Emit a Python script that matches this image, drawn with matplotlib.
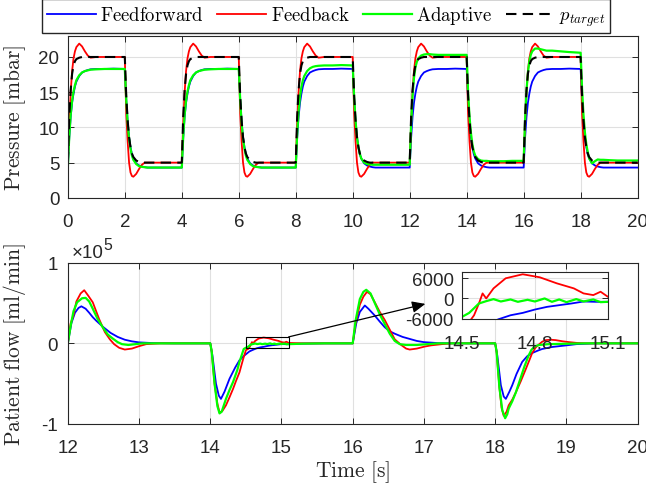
import numpy as np
import matplotlib
matplotlib.use('Agg')
import matplotlib.pyplot as plt
from matplotlib.patches import Rectangle

plt.rcParams['font.family'] = ['Liberation Sans', 'DejaVu Sans']
plt.rcParams['mathtext.fontset'] = 'cm'
plt.rcParams['axes.unicode_minus'] = False

# ---- pressure, one 4 s breathing cycle (relative time) ----
t_cycle = [0, .05, .1, .15, .2, .25, .3, .4, .5, .6, .7, .8, 1.0, 1.3, 1.6,
           2.0, 2.05, 2.1, 2.15, 2.2, 2.25, 2.3, 2.4, 2.5, 2.6, 2.7, 2.8, 3.0, 3.3, 3.6]
cycle_starts = [0, 4, 8, 12, 16]

p_target = [5.0, 11.5, 15.3, 17.6, 18.8, 19.4, 19.7, 19.9, 20, 20, 20, 20, 20, 20, 20,
            20, 14.5, 11.0, 8.6, 7.2, 6.3, 5.8, 5.3, 5.1, 5.0, 5, 5, 5, 5, 5]
p_feedback = [5.0, 10.5, 15.0, 18.0, 19.8, 20.8, 21.4, 21.9, 21.5, 20.8, 20.2, 19.9, 20, 20, 20,
              20, 12.0, 8.0, 5.0, 3.6, 3.1, 3.0, 3.4, 4.1, 4.7, 5.0, 5, 5, 5, 5]
p_feedforward = [4.3, 8.5, 11.5, 13.5, 14.8, 15.8, 16.5, 17.3, 17.8, 18.0, 18.15, 18.25, 18.3, 18.3, 18.35,
                 18.3, 14.0, 10.8, 8.6, 7.2, 6.2, 5.6, 4.9, 4.6, 4.45, 4.35, 4.3, 4.3, 4.3, 4.3]
p_adaptive = [
    [4.3, 8.7, 11.8, 13.8, 15.1, 16.0, 16.7, 17.4, 17.8, 18.0, 18.1, 18.2, 18.25, 18.3, 18.3,
     18.3, 14.0, 10.6, 8.4, 7.0, 6.0, 5.4, 4.8, 4.5, 4.4, 4.35, 4.3, 4.3, 4.3, 4.3],
    [4.3, 8.7, 11.8, 13.8, 15.1, 16.0, 16.7, 17.4, 17.8, 18.0, 18.1, 18.2, 18.25, 18.3, 18.3,
     18.3, 14.0, 10.6, 8.4, 7.0, 6.0, 5.4, 4.8, 4.5, 4.4, 4.35, 4.3, 4.3, 4.3, 4.3],
    [4.3, 9.0, 12.3, 14.4, 15.8, 16.7, 17.3, 18.0, 18.4, 18.6, 18.7, 18.75, 18.8, 18.8, 18.85,
     18.8, 14.3, 10.9, 8.6, 7.2, 6.2, 5.6, 5.0, 4.8, 4.75, 4.7, 4.7, 4.7, 4.7, 4.7],
    [4.7, 10.5, 14.5, 17.0, 18.5, 19.3, 19.8, 20.2, 20.35, 20.4, 20.4, 20.35, 20.3, 20.3, 20.3,
     20.3, 15.0, 11.5, 9.2, 7.6, 6.6, 6.0, 5.5, 5.3, 5.25, 5.25, 5.2, 5.2, 5.2, 5.25],
    [5.25, 11.0, 15.2, 17.8, 19.4, 20.3, 20.8, 21.2, 21.2, 21.1, 21.0, 20.9, 20.9, 20.8, 20.7,
     20.6, 15.5, 11.8, 9.3, 7.6, 6.5, 5.6, 4.9, 5.2, 5.45, 5.4, 5.4, 5.35, 5.3, 5.3],
]
t_end = 20
p_end = {'target': 5.0, 'feedback': 5.0, 'feedforward': 4.3, 'adaptive': 5.3}

# ---- patient flow [ml/min], 12..20 s ----
t_ff = [12.0, 12.05, 12.1, 12.15, 12.19, 12.25, 12.3, 12.35, 12.4, 12.5, 12.6, 12.7, 12.8, 12.9, 13.0, 13.2, 13.5,
        14.0, 14.03, 14.08, 14.12, 14.15, 14.2, 14.27, 14.35, 14.41, 14.48, 14.55, 14.6, 14.65, 14.7, 14.75,
        14.8, 14.85, 14.9, 14.95, 15.0, 15.05, 15.1, 15.3, 15.6,
        16.0, 16.05, 16.1, 16.17, 16.22, 16.31, 16.38, 16.45, 16.52, 16.59, 16.7, 16.78, 16.9, 17.0, 17.2, 17.5,
        18.0, 18.03, 18.08, 18.12, 18.15, 18.2, 18.24, 18.3, 18.38, 18.45, 18.52, 18.6, 18.66, 18.8, 18.9,
        19.0, 19.14, 19.4, 20.0]
q_ff = [0, 25000, 38000, 44000, 46000, 43000, 38000, 32500, 28000, 20000, 13000, 8000, 4500, 2500, 1200, 300, 0,
        0, -15000, -50000, -65000, -69000, -60000, -44000, -30000, -21000, -15000, -10000, -8000, -6200, -5000, -4300,
        -3300, -2500, -2000, -1500, -900, -1000, -1000, -300, 0,
        0, 25000, 39000, 47000, 43000, 34500, 27000, 20000, 15000, 12000, 8000, 6000, 3000, 1500, 300, 0,
        0, -15000, -52000, -66000, -69000, -60000, -52000, -38000, -23000, -16000, -12000, -9000, -7000, -4500, -3500,
        -2500, -1000, 0, 0]

t_fb = [12.0, 12.04, 12.08, 12.12, 12.18, 12.23, 12.28, 12.35, 12.44, 12.52, 12.59, 12.65, 12.72, 12.8, 12.9, 13.0,
        13.1, 13.3,
        14.0, 14.02, 14.06, 14.1, 14.13, 14.17, 14.22, 14.27, 14.32, 14.36, 14.41, 14.46, 14.5, 14.53, 14.55, 14.57,
        14.585, 14.6, 14.63, 14.68, 14.75, 14.82, 14.89, 14.96, 15.0, 15.04, 15.07, 15.1, 15.3,
        16.0, 16.04, 16.1, 16.15, 16.2, 16.25, 16.31, 16.38, 16.45, 16.52, 16.59, 16.68, 16.75, 16.8, 16.9, 17.01,
        17.1, 17.25, 17.4,
        18.0, 18.02, 18.06, 18.09, 18.12, 18.16, 18.19, 18.24, 18.29, 18.36, 18.43, 18.48, 18.52, 18.57, 18.62,
        18.66, 18.71, 18.78, 18.85, 18.95, 19.04, 19.15, 19.3, 20.0]
q_fb = [0, 25000, 35000, 52000, 62000, 66000, 60000, 51000, 30000, 14000, 5000, -1000, -5500, -7700, -6500, -3500,
        -1000, 0,
        0, -10000, -50000, -75000, -86000, -84000, -77000, -67000, -56500, -47000, -36000, -20000, -8500, -7000,
        -5000, -1500, 1500, 0, 3000, 6000, 7200, 6300, 4500, 3000, 1500, 1000, 2000, 500, 0,
        0, 25000, 48000, 58000, 64000, 61000, 51000, 39000, 29000, 17000, 5000, -2000, -6500, -7700, -6500, -4000,
        -2500, -1000, 0,
        0, -10000, -55000, -80000, -90000, -85000, -77000, -70000, -61000, -47000, -32000, -21000, -12000, -5000,
        -1000, 2000, 4000, 4500, 4000, 2500, 1500, 500, 0, 0]

t_ad = [12.0, 12.04, 12.08, 12.13, 12.2, 12.25, 12.3, 12.35, 12.42, 12.49, 12.56, 12.63, 12.7, 12.76, 12.85, 12.95,
        13.05,
        14.0, 14.02, 14.06, 14.1, 14.13, 14.16, 14.22, 14.27, 14.32, 14.38, 14.41, 14.47, 14.5, 14.53, 14.57, 14.6,
        14.63, 14.66, 14.7, 14.73, 14.77, 14.8, 14.84, 14.87, 14.9, 14.93, 14.97, 15.0, 15.04, 15.07, 15.1, 15.3,
        15.6,
        16.0, 16.04, 16.1, 16.15, 16.19, 16.25, 16.31, 16.38, 16.45, 16.52, 16.59, 16.66, 16.75, 16.9, 17.05, 17.2,
        18.0, 18.02, 18.06, 18.1, 18.14, 18.17, 18.19, 18.24, 18.29, 18.35, 18.41, 18.47, 18.51, 18.56, 18.62,
        18.75, 19.0, 19.3, 20.0]
q_ad = [0, 22000, 40000, 51000, 56000, 56500, 52000, 43000, 30000, 20000, 11000, 6000, 1500, -1000, -2000, -1000,
        0,
        0, -10000, -50000, -78000, -87000, -85000, -69000, -58000, -48000, -33000, -23000, -7000, -5500, -4300,
        -1500, -800, -200, -900, -300, -1000, -400, -900, 0, -1000, -300, -1100, -200, -900, -300, -1100, -1000,
        -400, 0,
        0, 28000, 55000, 64000, 66500, 62000, 50000, 36000, 24000, 12000, 3000, -1000, -2000, -2000, -1000, 0,
        0, -10000, -55000, -83000, -93000, -88000, -81000, -72000, -61000, -45000, -29000, -15000, -8000, -3500,
        -2000, -1000, -500, 0, 0]

zoom_x = (14.5, 15.1)
zoom_y = (-6000, 8000)

c_ff, c_fb, c_ad = '#0000ff', '#ff0000', '#00ff00'
tick_fs = 13.5
label_fs = 15.5


def style(ax):
    ax.grid(True, color='#e0e0e0', lw=0.8)
    ax.set_axisbelow(True)
    ax.tick_params(direction='in', top=True, right=True, length=4, width=0.7,
                   colors='#262626', labelsize=tick_fs)
    for s in ax.spines.values():
        s.set_color('#262626')
        s.set_linewidth(0.8)


fig = plt.figure(figsize=(6.46, 4.85), dpi=100)
ax1 = fig.add_axes([0.105, 0.590, 0.882, 0.334])
ax2 = fig.add_axes([0.105, 0.124, 0.882, 0.332])

# pressure
t_p = np.concatenate([np.array(t_cycle) + s for s in cycle_starts] + [[t_end]])
y_target = np.concatenate([p_target] * 5 + [[p_end['target']]])
y_fb = np.concatenate([p_feedback] * 5 + [[p_end['feedback']]])
y_ff = np.concatenate([p_feedforward] * 5 + [[p_end['feedforward']]])
y_ad = np.concatenate(p_adaptive + [[p_end['adaptive']]])

h1, = ax1.plot(t_p, y_ff, color=c_ff, lw=1.3)
h2, = ax1.plot(t_p, y_fb, color=c_fb, lw=1.3)
h3, = ax1.plot(t_p, y_ad, color=c_ad, lw=1.6)
h4, = ax1.plot(t_p, y_target, color='k', lw=1.5, ls=(0, (5, 3)))
ax1.set_xlim(0, 20)
ax1.set_ylim(0, 23)
ax1.set_xticks(range(0, 21, 2))
ax1.set_yticks([0, 5, 10, 15, 20])
style(ax1)
ax1.tick_params(axis='x', pad=11)
ax1.tick_params(axis='y', pad=6)
ax1.set_ylabel(r'$\mathrm{Pressure\ [mbar]}$', fontsize=label_fs, color='#262626')
ax1.yaxis.set_label_coords(-0.07, 0.5)

# flow
ax2.plot(t_ff, q_ff, color=c_ff, lw=1.3)
ax2.plot(t_fb, q_fb, color=c_fb, lw=1.3)
ax2.plot(t_ad, q_ad, color=c_ad, lw=1.6)
ax2.set_xlim(12, 20)
ax2.set_ylim(-1e5, 1e5)
ax2.set_xticks(range(12, 21))
ax2.set_yticks([-1e5, 0, 1e5])
ax2.set_yticklabels(['-1', '0', '1'])
style(ax2)
ax2.tick_params(axis='x', pad=11)
ax2.tick_params(axis='y', pad=7)
mult = ax2.text(0.006, 1.012, '×10', transform=ax2.transAxes,
                ha='left', va='bottom', fontsize=tick_fs, color='#262626')
ax2.annotate('5', xy=(1.0, 0.55), xycoords=mult, ha='left', va='bottom',
             fontsize=tick_fs * 0.85, color='#262626')
ax2.set_ylabel(r'$\mathrm{Patient\ flow\ [ml/min]}$', fontsize=label_fs, color='#262626')
ax2.yaxis.set_label_coords(-0.07, 0.5)
ax2.set_xlabel(r'$\mathrm{Time\ [s]}$', fontsize=label_fs, color='#262626')
ax2.xaxis.set_label_coords(0.5, -0.215)

ax2.add_patch(Rectangle((zoom_x[0], zoom_y[0]), zoom_x[1] - zoom_x[0], zoom_y[1] - zoom_y[0],
                        fill=False, ec='k', lw=0.8, zorder=5))
ax2.annotate('', xy=(17.02, 49000), xytext=(zoom_x[1], zoom_y[1]),
             arrowprops=dict(arrowstyle='-|>,head_length=0.8,head_width=0.35', color='k', lw=0.9,
                             shrinkA=0, shrinkB=0), zorder=6)

# inset
axi = fig.add_axes([0.715, 0.341, 0.226, 0.097])
axi.plot(t_ff, q_ff, color=c_ff, lw=1.3)
axi.plot(t_fb, q_fb, color=c_fb, lw=1.3)
axi.plot(t_ad, q_ad, color=c_ad, lw=1.6)
axi.set_xlim(*zoom_x)
axi.set_ylim(*zoom_y)
axi.set_xticks([14.5, 14.8, 15.1])
axi.set_xticklabels(['14.5', '14.8', '15.1'])
axi.set_yticks([-6000, 0, 6000])
style(axi)
axi.tick_params(axis='x', pad=12)
axi.tick_params(axis='y', pad=6)

fig.legend([h1, h2, h3, h4],
           [r'$\mathrm{Feedforward}$', r'$\mathrm{Feedback}$', r'$\mathrm{Adaptive}$', r'$p_{target}$'],
           loc='lower center', bbox_to_anchor=(0.505, 0.93), ncol=4, fontsize=13.5,
           frameon=True, fancybox=False, edgecolor='#262626', framealpha=1,
           handlelength=2.6, columnspacing=0.7, handletextpad=0.25, borderpad=0.25, borderaxespad=0)

fig.savefig('out.png', dpi=100)
